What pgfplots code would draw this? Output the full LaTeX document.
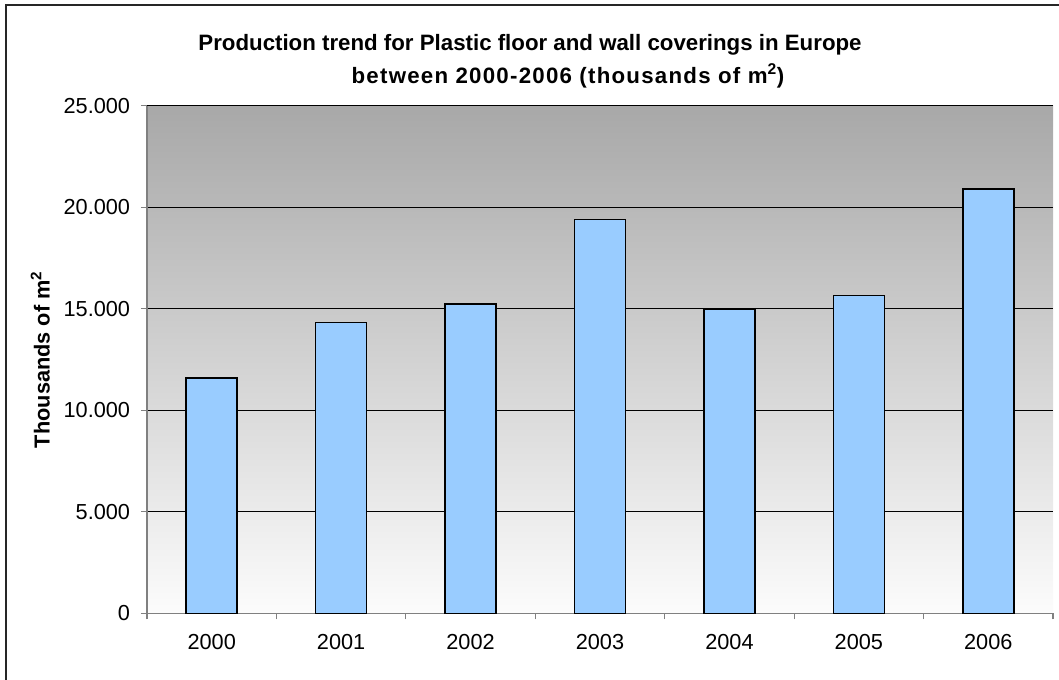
\documentclass[border=0pt]{standalone}
\usepackage{fontspec}
\setmainfont{Liberation Sans}
\usepackage{pgfplots}
\pgfplotsset{compat=1.18}
\definecolor{barblue}{HTML}{99CCFF}
\definecolor{bgtop}{HTML}{A8A8A8}
\definecolor{bgbot}{HTML}{FCFCFC}
\definecolor{axgray}{HTML}{808080}
\begin{document}
\begin{tikzpicture}
% page = 1059 x 679 px at 0.75pt/px, origin at lower left of plot area
\useasboundingbox (-110.25pt,-49.3pt) rectangle (684pt,460pt);
\draw[line width=1.5pt, black!85] (-106.1pt,-100pt) -- (-106.1pt,455.9pt) -- (800pt,455.9pt);
\begin{axis}[
  at={(0,0)}, anchor=south west,
  scale only axis, width=679.5pt, height=380.7pt,
  ybar, bar width=38.25pt,
  xmin=-0.5, xmax=6.5, ymin=0, ymax=25000,
  ytick={0,5000,...,25000},
  xtick={-0.5,0.5,...,6.5}, xticklabels={},
  extra x ticks={0,1,2,3,4,5,6},
  extra x tick labels={2000,2001,2002,2003,2004,2005,2006},
  extra x tick style={major tick length=0pt, grid=none},
  ymajorgrids, grid style={black, line width=0.6pt},
  axis lines*=left, axis line style={draw=axgray, line width=1pt, -},
  tick align=outside, major tick length=4.5pt,
  tick style={axgray, line width=0.8pt},
  ticklabel style={font=\fontsize{16.3}{19}\selectfont},
  x tick label style={yshift=-12pt},
  y tick label style={inner sep=0pt, xshift=-8pt},
  scaled y ticks=false,
  /pgf/number format/.cd, 1000 sep={.}, assume math mode=true,
  /pgfplots/.cd,
  axis background/.style={top color=bgtop, bottom color=bgbot},
]
\addplot[fill=barblue, draw=black, line width=1.2pt]
  coordinates {(0,11600) (1,14330) (2,15230) (3,19400) (4,15000) (5,15660) (6,20900)};
\end{axis}
\node[rotate=90, font=\fontsize{16.3}{19}\selectfont\bfseries] at (-80pt,190.35pt) {Thousands of m\textsuperscript{2}};
\node[font=\fontsize{16.7}{19}\selectfont\bfseries] at (287.25pt,426.5pt) {Production trend for Plastic floor and wall coverings in Europe};
\node[font=\fontsize{16.7}{19}\selectfont\bfseries\addfontfeature{LetterSpace=5.6}] at (315.75pt,403pt) {between 2000-2006 (thousands of m\textsuperscript{2})};
\end{tikzpicture}
\end{document}
